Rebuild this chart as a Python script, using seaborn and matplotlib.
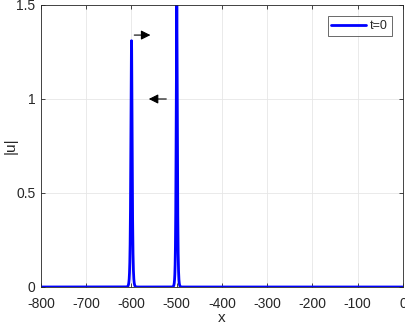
import numpy as np
import pandas as pd
import matplotlib
matplotlib.use("Agg")
import matplotlib.pyplot as plt
import seaborn as sns

# Read-off soliton parameters
centers = [-600, -500]
amplitudes = [1.31, 1.52]
widths = [0.8, 0.9]
legend_label = "t=0"
xticks = [-800, -700, -600, -500, -400, -300, -200, -100, 0]
yticks = [0, 0.5, 1, 1.5]
ytick_labels = ["0", "0.5", "1", "1.5"]

x = np.linspace(-800, 0, 16001)
u = np.zeros_like(x)
for c, a, w in zip(centers, amplitudes, widths):
    u = u + a / np.cosh(w * (x - c))
df = pd.DataFrame({"x": x, "u": u})

sns.set_style("whitegrid")
plt.rcParams['font.family'] = ['Liberation Sans', 'DejaVu Sans']

fig = plt.figure(figsize=(4.06, 3.25), dpi=100)
ax = fig.add_axes([41/406, 38/325, 362/406, 282/325])
sns.lineplot(data=df, x="x", y="u", ax=ax, color="#0000ff", linewidth=2, label=legend_label)

ax.set_xlim(-800, 0)
ax.set_ylim(0, 1.5)
ax.set_xticks(xticks)
ax.set_xticklabels([str(t) for t in xticks])
ax.set_yticks(yticks)
ax.set_yticklabels(ytick_labels)
ax.grid(True, color="#e6e6e6", linewidth=0.6)
for s in ax.spines.values():
    s.set_color("#262626")
    s.set_linewidth(0.6)
ax.tick_params(axis="both", labelsize=10, colors="#262626", direction="in", length=3, width=0.6)
ax.tick_params(axis="x", pad=7)
ax.tick_params(axis="y", pad=4)
ax.tick_params(top=True, right=True, bottom=True, left=True)
ax.set_xlabel("x", fontsize=11, color="#262626")
ax.xaxis.set_label_coords(0.5, -0.085)
ax.set_ylabel("|u|", fontsize=11, color="#262626")
ax.yaxis.set_label_coords(-0.065, 0.5)

ax.annotate("", xy=(-552, 1.34), xytext=(-600, 1.34),
            arrowprops=dict(arrowstyle="-|>", color="black", lw=0.8, mutation_scale=14))
ax.annotate("", xy=(-568, 1.0), xytext=(-517, 1.0),
            arrowprops=dict(arrowstyle="-|>", color="black", lw=0.8, mutation_scale=14))

leg = ax.legend(loc="upper right", fontsize=9, frameon=True, fancybox=False,
                handlelength=2.8, borderpad=0.3, handletextpad=0.3,
                borderaxespad=0.9)
leg.get_frame().set_edgecolor("#262626")
leg.get_frame().set_linewidth(0.6)

fig.savefig("out.png", dpi=100)
